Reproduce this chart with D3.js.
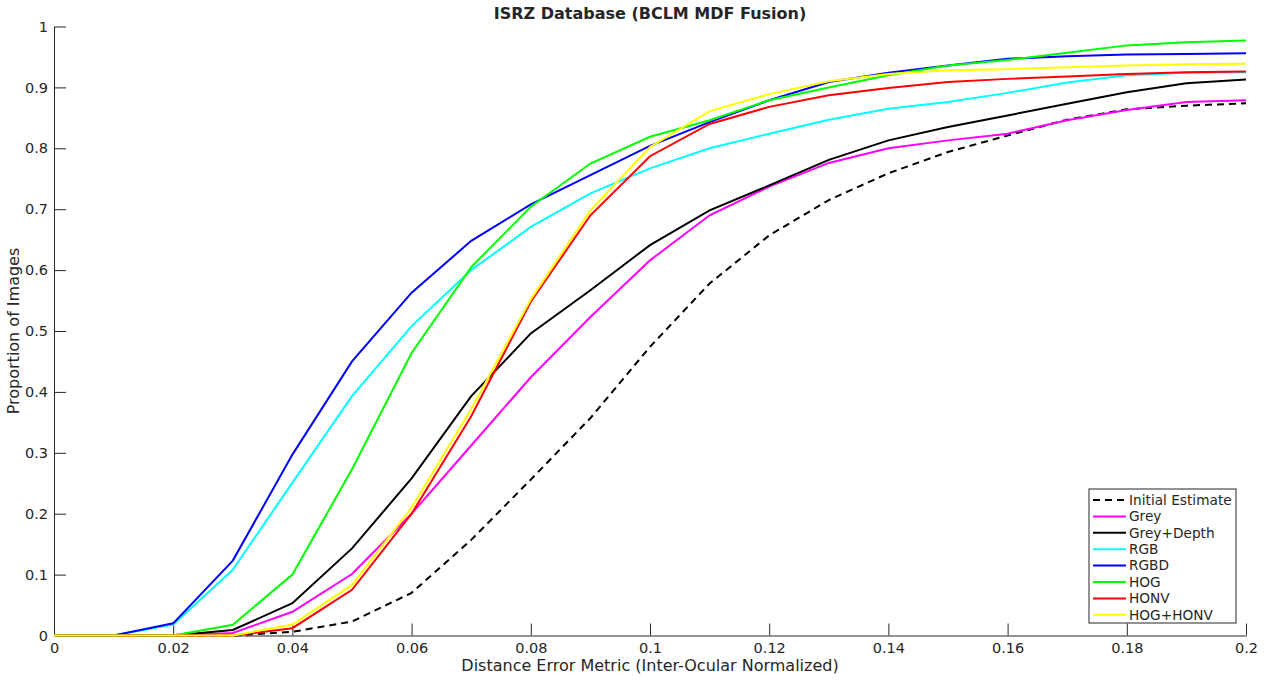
<!DOCTYPE html>
<html>
<head>
<meta charset="utf-8">
<script src="https://cdn.jsdelivr.net/npm/d3@7"></script>
<style>
  body { margin: 0; background: #fff; }
  svg text { font-family: "DejaVu Sans", sans-serif; fill: #262626; }
</style>
</head>
<body>
<svg id="chart" width="1267" height="680"></svg>
<script>
// error threshold values (x axis)
var thresholds = [0, 0.01, 0.02, 0.03, 0.04, 0.05, 0.06, 0.07, 0.08, 0.09, 0.1,
                  0.11, 0.12, 0.13, 0.14, 0.15, 0.16, 0.17, 0.18, 0.19, 0.2];

var initialEstimate = [0, 0, 0, 0, 0.006, 0.023, 0.07, 0.157, 0.256, 0.357, 0.474,
                       0.578, 0.657, 0.715, 0.759, 0.794, 0.821, 0.847, 0.864, 0.870, 0.874];
var grey      = [0, 0, 0, 0.004, 0.039, 0.101, 0.2, 0.312, 0.424, 0.523, 0.616,
                 0.69, 0.737, 0.776, 0.8, 0.813, 0.824, 0.846, 0.863, 0.876, 0.879];
var greyDepth = [0, 0, 0, 0.009, 0.053, 0.143, 0.258, 0.393, 0.496, 0.567, 0.641,
                 0.698, 0.739, 0.781, 0.813, 0.835, 0.854, 0.873, 0.892, 0.907, 0.913];
var rgb       = [0, 0, 0.018, 0.108, 0.251, 0.393, 0.508, 0.6, 0.671, 0.726, 0.767,
                 0.8, 0.824, 0.847, 0.865, 0.876, 0.891, 0.908, 0.92, 0.924, 0.925];
var rgbd      = [0, 0, 0.02, 0.123, 0.297, 0.45, 0.563, 0.648, 0.708, 0.756, 0.804,
                 0.843, 0.879, 0.909, 0.924, 0.936, 0.947, 0.951, 0.954, 0.955, 0.956];
var hog       = [0, 0, 0, 0.0176, 0.1, 0.273, 0.464, 0.605, 0.704, 0.775, 0.819,
                 0.846, 0.879, 0.9, 0.92, 0.936, 0.945, 0.957, 0.969, 0.974, 0.977];
var honv      = [0, 0, 0, 0, 0.012, 0.075, 0.2, 0.36, 0.548, 0.69, 0.787,
                 0.84, 0.868, 0.887, 0.899, 0.909, 0.914, 0.918, 0.922, 0.925, 0.926];
var hogHonv   = [0, 0, 0, 0, 0.018, 0.083, 0.21, 0.372, 0.552, 0.698, 0.802,
                 0.861, 0.889, 0.91, 0.922, 0.928, 0.93, 0.933, 0.936, 0.938, 0.939];

var seriesNames  = ['Initial Estimate', 'Grey', 'Grey+Depth', 'RGB', 'RGBD', 'HOG', 'HONV', 'HOG+HONV'];
var seriesColors = ['#000000', '#ff00ff', '#000000', '#00ffff', '#0000ff', '#00ff00', '#ff0000', '#ffff00'];
var seriesData   = [initialEstimate, grey, greyDepth, rgb, rgbd, hog, honv, hogHonv];

var xTicks = [0, 0.02, 0.04, 0.06, 0.08, 0.1, 0.12, 0.14, 0.16, 0.18, 0.2];
var yTicks = [0, 0.1, 0.2, 0.3, 0.4, 0.5, 0.6, 0.7, 0.8, 0.9, 1];

(function() {
  var svg = d3.select('#chart');
  var pLeft = 54, pRight = 1246, pTop = 26.5, pBottom = 635.5;

  var x = d3.scaleLinear().domain([0, 0.2]).range([pLeft, pRight]);
  var y = d3.scaleLinear().domain([0, 1]).range([pBottom, pTop]);

  function fmt(d) { return d === 0 ? '0' : String(+d.toFixed(2)); }

  // axes (ticks pointing inward, MATLAB style)
  var xAxis = svg.append('g')
      .attr('transform', 'translate(0,' + pBottom + ')')
      .call(d3.axisBottom(x).tickValues(xTicks).tickSizeInner(-12).tickSizeOuter(0).tickPadding(8).tickFormat(fmt));
  var yAxis = svg.append('g')
      .attr('transform', 'translate(' + pLeft + ',0)')
      .call(d3.axisLeft(y).tickValues(yTicks).tickSizeInner(-12).tickSizeOuter(0).tickPadding(8).tickFormat(fmt));

  [xAxis, yAxis].forEach(function(a) {
    a.select('.domain').attr('stroke', '#262626').attr('stroke-width', 1);
    a.selectAll('.tick line').attr('stroke', '#262626');
    a.selectAll('.tick text').style('font-size', '14.5px').attr('fill', '#262626');
  });
  xAxis.selectAll('.tick text').attr('y', 7).attr('dy', '0.71em');
  yAxis.selectAll('.tick text').attr('x', -6);

  // lines
  var line = d3.line()
      .x(function(d, i) { return x(thresholds[i]); })
      .y(function(d) { return y(d); });

  seriesData.forEach(function(vals, k) {
    svg.append('path')
        .datum(vals)
        .attr('d', line)
        .attr('fill', 'none')
        .attr('stroke', seriesColors[k])
        .attr('stroke-width', 2)
        .attr('stroke-dasharray', k === 0 ? '7,5' : null);
  });

  // title and labels
  svg.append('text')
      .attr('x', (pLeft + pRight) / 2).attr('y', 19)
      .attr('text-anchor', 'middle')
      .style('font-size', '16px').style('font-weight', 'bold')
      .attr('fill', '#000')
      .text('ISRZ Database (BCLM MDF Fusion)');

  svg.append('text')
      .attr('x', (pLeft + pRight) / 2).attr('y', 671)
      .attr('text-anchor', 'middle')
      .style('font-size', '16px')
      .text('Distance Error Metric (Inter-Ocular Normalized)');

  svg.append('text')
      .attr('transform', 'translate(19,' + ((pTop + pBottom) / 2) + ') rotate(-90)')
      .attr('text-anchor', 'middle')
      .style('font-size', '16px')
      .text('Proportion of Images');

  // legend
  var lg = svg.append('g').attr('transform', 'translate(1089,489)');
  lg.append('rect')
      .attr('width', 147).attr('height', 134)
      .attr('fill', '#fff').attr('stroke', '#262626').attr('stroke-width', 1);

  seriesNames.forEach(function(name, k) {
    var yy = 11 + k * 16.4;
    lg.append('line')
        .attr('x1', 4).attr('x2', 37).attr('y1', yy).attr('y2', yy)
        .attr('stroke', seriesColors[k]).attr('stroke-width', 2)
        .attr('stroke-dasharray', k === 0 ? '7,5' : null);
    lg.append('text')
        .attr('x', 40).attr('y', yy).attr('dy', '0.35em')
        .style('font-size', '13.7px').attr('fill', '#000')
        .text(name);
  });
})();
</script>
</body>
</html>
